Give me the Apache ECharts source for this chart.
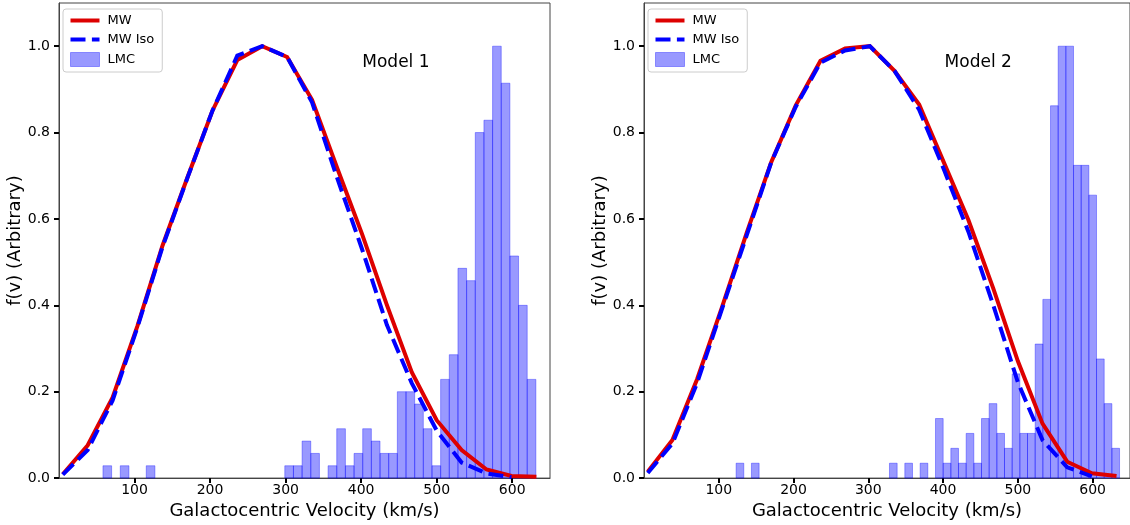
<!DOCTYPE html>
<html>
<head>
<meta charset="utf-8">
<script src="https://cdn.jsdelivr.net/npm/echarts@6/dist/echarts.min.js"></script>
<style>
html,body{margin:0;padding:0;background:#fff;}
#chart{width:1130px;height:525px;}
</style>
</head>
<body>
<div id="chart"></div>
<script>
// ---- data ----
const velocity = [5, 38, 71, 104, 137, 170, 203, 236, 269, 302, 335, 368, 401, 434, 467, 500, 533, 566, 599, 632];

const mw1    = [0.009, 0.076, 0.187, 0.353, 0.538, 0.696, 0.850, 0.968, 1.000, 0.975, 0.876, 0.719, 0.566, 0.401, 0.245, 0.134, 0.065, 0.020, 0.005, 0.003];
const mwIso1 = [0.008, 0.065, 0.180, 0.350, 0.535, 0.695, 0.850, 0.978, 1.000, 0.975, 0.870, 0.696, 0.531, 0.355, 0.220, 0.110, 0.036, 0.011, 0.002];

const mw2    = [0.015, 0.088, 0.229, 0.394, 0.566, 0.731, 0.863, 0.966, 0.995, 1.000, 0.943, 0.865, 0.731, 0.597, 0.440, 0.271, 0.126, 0.038, 0.011, 0.005];
const mwIso2 = [0.012, 0.080, 0.220, 0.390, 0.560, 0.730, 0.860, 0.962, 0.990, 1.000, 0.943, 0.853, 0.715, 0.570, 0.401, 0.222, 0.088, 0.025, 0.004];

// LMC histograms: 50 bins over [min, max] velocity, counts per bin
const lmcRange1  = [58.2, 631.3];
const lmcCounts1 = [1,0,1,0,0,1,0,0,0,0, 0,0,0,0,0,0,0,0,0,0, 0,1,1,3,2,0,1,4,1,2, 4,3,2,2,7,7,6,4,1,8, 10,17,16,28,29,35,32,18,14,8];
const lmcRange2  = [123.2, 636.0];
const lmcCounts2 = [1,0,1,0,0,0,0,0,0,0, 0,0,0,0,0,0,0,0,0,0, 1,0,1,0,1,0,4,1,2,1, 3,1,4,5,3,2,7,3,3,9, 12,25,29,29,21,21,19,8,5,2];

const xTicks = [100, 200, 300, 400, 500, 600];
const yTicks = [0, 0.2, 0.4, 0.6, 0.8, 1.0];
const modelLabels = ['Model 1', 'Model 2'];
const modelLabelPos = [[446, 0.963], [447, 0.963]];
const seriesNames = ['MW', 'MW Iso', 'LMC'];
const xName = 'Galactocentric Velocity (km/s)';
const yName = 'f(v) (Arbitrary)';

// ---- chart ----
const FONT = 'DejaVu Sans';
const RED = '#dd0000', BLUE = '#0000ff';
const chart = echarts.init(document.getElementById('chart'), null, {renderer: 'canvas'});

function pairs(xs, ys) { return ys.map((y, i) => [xs[i], y]); }
function hist(range, counts) {
  const w = (range[1] - range[0]) / counts.length;
  const mx = Math.max(...counts);
  const out = [];
  counts.forEach((c, i) => { if (c > 0) out.push([range[0] + i * w, range[0] + (i + 1) * w, c / mx]); });
  return out;
}

const gridLefts = [59, 644];
const grids = gridLefts.map(l => ({
  left: l, top: 3, width: 491, height: 479,
  show: true, borderColor: '#444', borderWidth: 1, backgroundColor: 'transparent'
}));

const xAxes = [0, 1].map(i => ({
  type: 'value', gridIndex: i, min: 0, max: 650,
  name: xName, nameLocation: 'middle', nameGap: 18,
  nameTextStyle: {fontFamily: FONT, fontSize: 18, color: '#000'},
  axisLine: {show: true, onZero: false, lineStyle: {color: '#444', width: 1}},
  axisTick: {show: true, length: 5, inside: false, customValues: xTicks, lineStyle: {color: '#000', width: 2}},
  axisLabel: {show: true, customValues: xTicks, margin: 5, fontFamily: FONT, fontSize: 14, color: '#000', formatter: v => String(v)},
  splitLine: {show: false}
}));

const yAxes = [0, 1].map(i => ({
  type: 'value', gridIndex: i, min: 0, max: 1.1,
  name: yName, nameLocation: 'middle', nameGap: 34, nameRotate: 90,
  nameTextStyle: {fontFamily: FONT, fontSize: 18, color: '#000'},
  axisLine: {show: true, onZero: false, lineStyle: {color: '#444', width: 1}},
  axisTick: {show: true, length: 5, inside: false, customValues: yTicks, lineStyle: {color: '#000', width: 2}},
  axisLabel: {show: true, customValues: yTicks, margin: 9, fontFamily: FONT, fontSize: 14, color: '#000', formatter: v => v.toFixed(1)},
  splitLine: {show: false}
}));

function panelSeries(i, mw, iso, range, counts) {
  return [
    {
      name: seriesNames[2], type: 'custom', xAxisIndex: i, yAxisIndex: i, z: 1,
      data: hist(range, counts),
      encode: {x: [0, 1], y: 2},
      itemStyle: {color: 'rgba(0,0,255,0.4)'},
      renderItem: function (params, api) {
        const p0 = api.coord([api.value(0), api.value(2)]);
        const p1 = api.coord([api.value(1), 0]);
        return {
          type: 'rect',
          shape: {x: p0[0], y: p0[1], width: p1[0] - p0[0], height: p1[1] - p0[1]},
          style: {fill: 'rgba(0,0,255,0.4)', stroke: 'rgba(0,0,255,0.35)', lineWidth: 1}
        };
      }
    },
    {
      name: seriesNames[0], type: 'line', xAxisIndex: i, yAxisIndex: i, z: 3,
      data: pairs(velocity, mw), symbol: 'none', showSymbol: false,
      lineStyle: {color: RED, width: 4, cap: 'butt', join: 'miter'},
      itemStyle: {color: RED}, animation: false
    },
    {
      name: seriesNames[1], type: 'line', xAxisIndex: i, yAxisIndex: i, z: 4,
      data: pairs(velocity, iso), symbol: 'none', showSymbol: false,
      lineStyle: {color: BLUE, width: 4, type: [15, 6.4], cap: 'butt', join: 'miter'},
      itemStyle: {color: BLUE}, animation: false
    }
  ];
}

const legends = gridLefts.map(l => ({
  orient: 'vertical', left: l + 4, top: 9,
  padding: [5, 8, 5, 7], itemGap: 6, itemWidth: 29, itemHeight: 14,
  symbolKeepAspect: true,
  backgroundColor: 'rgba(255,255,255,0.8)', borderColor: '#cccccc', borderWidth: 1, borderRadius: 3,
  textStyle: {fontFamily: FONT, fontSize: 13, color: '#000', padding: [0, 0, 0, 3]},
  selectedMode: false,
  data: [
    {name: seriesNames[0], icon: 'path://M0,0H29V4H0Z', itemStyle: {color: RED}},
    {name: seriesNames[1], icon: 'path://M0,0H15V4H0Z M21.4,0H29V4H21.4Z', itemStyle: {color: BLUE}},
    {name: seriesNames[2], icon: 'rect', itemStyle: {color: 'rgba(0,0,255,0.4)', borderColor: 'rgba(0,0,255,0.35)', borderWidth: 1}}
  ]
}));

chart.setOption({
  animation: false,
  backgroundColor: '#fff',
  grid: grids,
  xAxis: xAxes,
  yAxis: yAxes,
  legend: legends,
  series: [
    ...panelSeries(0, mw1, mwIso1, lmcRange1, lmcCounts1),
    ...panelSeries(1, mw2, mwIso2, lmcRange2, lmcCounts2)
  ]
});

// Model labels placed through the axes' scales
const graphics = modelLabels.map((t, i) => {
  const p = chart.convertToPixel({xAxisIndex: i, yAxisIndex: i}, modelLabelPos[i]);
  return {type: 'text', x: p[0], y: p[1], z: 10,
    style: {text: t, fontFamily: FONT, fontSize: 17, fill: '#000', align: 'center', verticalAlign: 'middle'}};
});
chart.setOption({graphic: graphics});
</script>
</body>
</html>
